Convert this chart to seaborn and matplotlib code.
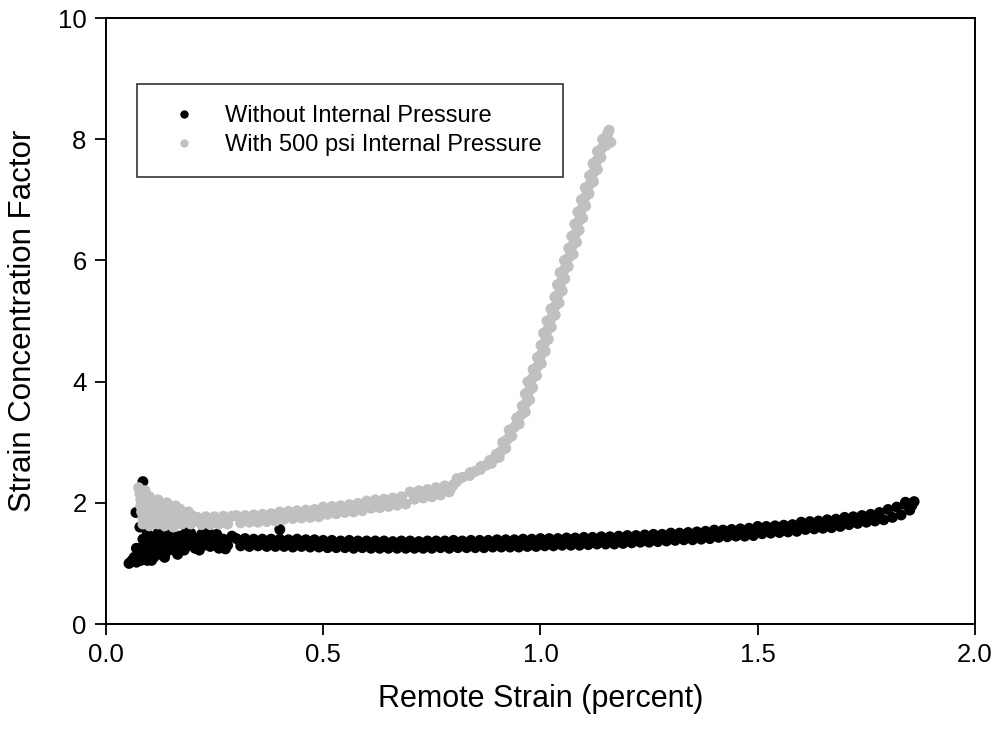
import numpy as np
import pandas as pd
import matplotlib
matplotlib.use("Agg")
import matplotlib.pyplot as plt
import seaborn as sns

# ── DATA ─────────────────────────────────────────────────────
# Without internal pressure – noisy start region
black_start_x = [0.053, 0.060, 0.065, 0.070, 0.075, 0.080, 0.080, 0.085, 0.090, 0.090,
                 0.095, 0.100, 0.100, 0.100, 0.105, 0.110, 0.110, 0.115, 0.120, 0.120,
                 0.125, 0.130, 0.130, 0.140, 0.140, 0.145, 0.150, 0.155, 0.160, 0.165,
                 0.170, 0.175, 0.180, 0.185, 0.190, 0.200, 0.205, 0.210, 0.220, 0.225,
                 0.230, 0.240, 0.245, 0.250, 0.260, 0.270, 0.280, 0.290,
                 0.070, 0.085, 0.095, 0.105, 0.115, 0.125, 0.135, 0.150, 0.165, 0.180,
                 0.195, 0.215, 0.235, 0.255, 0.275,
                 0.085, 0.069, 0.400, 0.078]
black_start_y = [1.00, 1.05, 1.10, 1.02, 1.15, 1.05, 1.25, 1.10, 1.20, 1.35,
                 1.05, 1.15, 1.30, 1.45, 1.25, 1.10, 1.40, 1.20, 1.30, 1.50,
                 1.15, 1.25, 1.40, 1.20, 1.35, 1.50, 1.25, 1.40, 1.20, 1.32,
                 1.45, 1.28, 1.38, 1.52, 1.30, 1.42, 1.25, 1.35, 1.48, 1.30,
                 1.40, 1.28, 1.45, 1.35, 1.25, 1.40, 1.30, 1.45,
                 1.25, 1.40, 1.50, 1.05, 1.35, 1.45, 1.10, 1.50, 1.15, 1.22,
                 1.50, 1.22, 1.52, 1.48, 1.24,
                 2.35, 1.84, 1.56, 1.60]

# Without internal pressure – main band, strain 0.30 ... 1.86
black_band_x = [0.30, 0.31, 0.32, 0.33, 0.34, 0.35, 0.36, 0.37, 0.38, 0.39,
                0.40, 0.41, 0.42, 0.43, 0.44, 0.45, 0.46, 0.47, 0.48, 0.49,
                0.50, 0.51, 0.52, 0.53, 0.54, 0.55, 0.56, 0.57, 0.58, 0.59,
                0.60, 0.61, 0.62, 0.63, 0.64, 0.65, 0.66, 0.67, 0.68, 0.69,
                0.70, 0.71, 0.72, 0.73, 0.74, 0.75, 0.76, 0.77, 0.78, 0.79,
                0.80, 0.81, 0.82, 0.83, 0.84, 0.85, 0.86, 0.87, 0.88, 0.89,
                0.90, 0.91, 0.92, 0.93, 0.94, 0.95, 0.96, 0.97, 0.98, 0.99,
                1.00, 1.01, 1.02, 1.03, 1.04, 1.05, 1.06, 1.07, 1.08, 1.09,
                1.10, 1.11, 1.12, 1.13, 1.14, 1.15, 1.16, 1.17, 1.18, 1.19,
                1.20, 1.21, 1.22, 1.23, 1.24, 1.25, 1.26, 1.27, 1.28, 1.29,
                1.30, 1.31, 1.32, 1.33, 1.34, 1.35, 1.36, 1.37, 1.38, 1.39,
                1.40, 1.41, 1.42, 1.43, 1.44, 1.45, 1.46, 1.47, 1.48, 1.49,
                1.50, 1.51, 1.52, 1.53, 1.54, 1.55, 1.56, 1.57, 1.58, 1.59,
                1.60, 1.61, 1.62, 1.63, 1.64, 1.65, 1.66, 1.67, 1.68, 1.69,
                1.70, 1.71, 1.72, 1.73, 1.74, 1.75, 1.76, 1.77, 1.78, 1.79,
                1.80, 1.81, 1.82, 1.83, 1.84, 1.85, 1.86, 1.84, 1.855]
black_band_y = [1.41, 1.29, 1.41, 1.28, 1.40, 1.29, 1.40, 1.28, 1.40, 1.28,
                1.40, 1.28, 1.39, 1.27, 1.40, 1.28, 1.39, 1.27, 1.39, 1.27,
                1.38, 1.26, 1.38, 1.26, 1.37, 1.26, 1.38, 1.25, 1.37, 1.26,
                1.37, 1.25, 1.37, 1.25, 1.37, 1.25, 1.36, 1.25, 1.37, 1.25,
                1.37, 1.25, 1.36, 1.25, 1.37, 1.25, 1.37, 1.26, 1.37, 1.25,
                1.38, 1.26, 1.37, 1.26, 1.38, 1.26, 1.38, 1.26, 1.38, 1.27,
                1.39, 1.27, 1.39, 1.27, 1.39, 1.27, 1.40, 1.28, 1.40, 1.28,
                1.41, 1.29, 1.41, 1.29, 1.41, 1.30, 1.42, 1.30, 1.42, 1.30,
                1.43, 1.31, 1.43, 1.32, 1.44, 1.32, 1.44, 1.32, 1.45, 1.33,
                1.46, 1.34, 1.46, 1.35, 1.47, 1.35, 1.48, 1.36, 1.48, 1.37,
                1.50, 1.38, 1.50, 1.39, 1.51, 1.39, 1.52, 1.40, 1.53, 1.41,
                1.55, 1.43, 1.55, 1.44, 1.56, 1.45, 1.57, 1.45, 1.58, 1.46,
                1.61, 1.49, 1.61, 1.50, 1.62, 1.51, 1.63, 1.52, 1.64, 1.53,
                1.68, 1.56, 1.69, 1.57, 1.70, 1.58, 1.72, 1.59, 1.73, 1.61,
                1.76, 1.64, 1.77, 1.66, 1.79, 1.68, 1.81, 1.70, 1.84, 1.72,
                1.89, 1.76, 1.93, 1.80, 1.97, 1.88, 2.02, 2.01, 1.96]

# With 500 psi internal pressure – noisy start region
grey_start_x = [0.075, 0.078, 0.080, 0.080, 0.082, 0.085, 0.085, 0.090, 0.090, 0.095,
                0.095, 0.100, 0.100, 0.100, 0.110, 0.110, 0.110, 0.120, 0.120, 0.120,
                0.130, 0.130, 0.135, 0.140, 0.140, 0.150, 0.150, 0.155, 0.160, 0.165,
                0.170, 0.175, 0.180, 0.185, 0.190, 0.195, 0.200,
                0.088, 0.105, 0.115, 0.125, 0.145, 0.160, 0.172, 0.188, 0.205]
grey_start_y = [2.25, 2.15, 2.05, 1.95, 1.85, 1.75, 1.65, 2.20, 2.00, 1.90,
                1.70, 2.10, 1.80, 1.62, 2.00, 1.85, 1.70, 2.05, 1.90, 1.65,
                1.95, 1.78, 1.62, 2.00, 1.85, 1.92, 1.70, 1.60, 1.85, 1.72,
                1.90, 1.65, 1.82, 1.70, 1.85, 1.65, 1.78,
                2.10, 1.95, 1.78, 1.85, 1.75, 1.95, 1.80, 1.76, 1.70]

# With 500 psi internal pressure – gently rising band, strain 0.21 ... 0.80
grey_band_x = [0.21, 0.22, 0.23, 0.24, 0.25, 0.26, 0.27, 0.28, 0.29,
               0.30, 0.31, 0.32, 0.33, 0.34, 0.35, 0.36, 0.37, 0.38, 0.39,
               0.40, 0.41, 0.42, 0.43, 0.44, 0.45, 0.46, 0.47, 0.48, 0.49,
               0.50, 0.51, 0.52, 0.53, 0.54, 0.55, 0.56, 0.57, 0.58, 0.59,
               0.60, 0.61, 0.62, 0.63, 0.64, 0.65, 0.66, 0.67, 0.68, 0.69,
               0.70, 0.71, 0.72, 0.73, 0.74, 0.75, 0.76, 0.77, 0.78, 0.79,
               0.795, 0.80]
grey_band_y = [1.76, 1.64, 1.77, 1.64, 1.77, 1.65, 1.78, 1.65, 1.78,
               1.79, 1.67, 1.79, 1.68, 1.80, 1.68, 1.81, 1.69, 1.82, 1.70,
               1.85, 1.73, 1.86, 1.74, 1.87, 1.75, 1.88, 1.76, 1.89, 1.77,
               1.93, 1.81, 1.94, 1.82, 1.95, 1.84, 1.97, 1.85, 1.99, 1.87,
               2.03, 1.91, 2.05, 1.92, 2.06, 1.94, 2.08, 1.96, 2.10, 1.98,
               2.18, 2.06, 2.20, 2.08, 2.22, 2.10, 2.25, 2.13, 2.28, 2.18,
               2.25, 2.30]

# With 500 psi internal pressure – steep rise (two edges of the band)
grey_rise_x = [0.807, 0.808, 0.837, 0.838, 0.862, 0.863, 0.887, 0.883, 0.905, 0.898,
               0.920, 0.913, 0.934, 0.928, 0.951, 0.945, 0.965, 0.958, 0.975, 0.965,
               0.982, 0.971, 0.991, 0.983, 1.002, 0.993, 1.011, 1.001, 1.018, 1.007,
               1.025, 1.015, 1.034, 1.024, 1.043, 1.033, 1.050, 1.039, 1.056, 1.045,
               1.064, 1.055, 1.075, 1.065, 1.083, 1.072, 1.089, 1.079, 1.097, 1.086,
               1.104, 1.094, 1.112, 1.103, 1.122, 1.113, 1.131, 1.121, 1.139, 1.131,
               1.151, 1.143, 1.155, 1.158, 1.162]
grey_rise_y = [2.35, 2.40, 2.45, 2.50, 2.55, 2.60, 2.65, 2.70, 2.75, 2.80,
               2.90, 3.00, 3.10, 3.20, 3.30, 3.40, 3.50, 3.60, 3.70, 3.80,
               3.90, 4.00, 4.10, 4.20, 4.30, 4.40, 4.50, 4.60, 4.70, 4.80,
               4.90, 5.00, 5.10, 5.20, 5.30, 5.40, 5.50, 5.60, 5.70, 5.80,
               5.90, 6.00, 6.10, 6.20, 6.30, 6.40, 6.50, 6.60, 6.70, 6.80,
               6.90, 7.00, 7.10, 7.20, 7.30, 7.40, 7.50, 7.60, 7.70, 7.80,
               7.90, 8.00, 8.10, 8.15, 7.95]

# With 500 psi internal pressure – steep rise (middle of the band)
grey_mid_x = [0.820, 0.850, 0.875, 0.893, 0.909, 0.917, 0.924, 0.931, 0.940, 0.948,
              0.955, 0.962, 0.967, 0.970, 0.974, 0.977, 0.981, 0.987, 0.993, 0.998,
              1.002, 1.006, 1.010, 1.013, 1.016, 1.020, 1.025, 1.029, 1.034, 1.038,
              1.042, 1.045, 1.048, 1.051, 1.055, 1.060, 1.065, 1.070, 1.074, 1.078,
              1.081, 1.084, 1.088, 1.092, 1.095, 1.099, 1.103, 1.108, 1.113, 1.118,
              1.122, 1.126, 1.130, 1.135, 1.141, 1.147, 1.153]
grey_mid_y = [2.42, 2.52, 2.62, 2.72, 2.85, 2.95, 3.05, 3.15, 3.25, 3.35,
              3.45, 3.55, 3.65, 3.75, 3.85, 3.95, 4.05, 4.15, 4.25, 4.35,
              4.45, 4.55, 4.65, 4.75, 4.85, 4.95, 5.05, 5.15, 5.25, 5.35,
              5.45, 5.55, 5.65, 5.75, 5.85, 5.95, 6.05, 6.15, 6.25, 6.35,
              6.45, 6.55, 6.65, 6.75, 6.85, 6.95, 7.05, 7.15, 7.25, 7.35,
              7.45, 7.55, 7.65, 7.75, 7.85, 7.95, 8.05]

x_ticks = [0.0, 0.5, 1.0, 1.5, 2.0]
y_ticks = [0, 2, 4, 6, 8, 10]
labels = ['Without Internal Pressure', 'With 500 psi Internal Pressure']
colors = ['#000000', '#c0c0c0']

black_x = black_start_x + black_band_x
black_y = black_start_y + black_band_y
grey_x = grey_start_x + grey_band_x + grey_rise_x + grey_mid_x
grey_y = grey_start_y + grey_band_y + grey_rise_y + grey_mid_y

df = pd.DataFrame({
    'strain': black_x + grey_x,
    'scf': black_y + grey_y,
    'series': [labels[0]] * len(black_x) + [labels[1]] * len(grey_x),
})

# ── PLOT ─────────────────────────────────────────────────────
sns.set_style('ticks')
plt.rcParams['font.family'] = ['Liberation Sans', 'DejaVu Sans']
plt.rcParams['text.color'] = 'black'
plt.rcParams['axes.labelcolor'] = 'black'

fig = plt.figure(figsize=(9.97, 7.30), dpi=100)
ax = fig.add_axes([0.1063, 0.1452, 0.8716, 0.830])

sns.scatterplot(data=df, x='strain', y='scf', hue='series',
                palette=dict(zip(labels, colors)), s=62, linewidth=0,
                alpha=1.0, legend=False, ax=ax)

ax.set_xlim(0, 2.0)
ax.set_ylim(0, 10)
ax.set_xticks(x_ticks)
ax.set_xticklabels([f'{t:.1f}' for t in x_ticks])
ax.set_yticks(y_ticks)
ax.set_yticklabels([str(t) for t in y_ticks])
ax.tick_params(axis='both', direction='out', length=8, width=1.3,
               labelsize=18.5, color='black', labelcolor='black', pad=6)
for sp in ax.spines.values():
    sp.set_visible(True)
    sp.set_linewidth(1.4)
    sp.set_color('black')

ax.set_xlabel('Remote Strain (percent)', fontsize=22, labelpad=12)
ax.set_ylabel('Strain Concentration Factor', fontsize=22.5, labelpad=14)

handles = [plt.Line2D([], [], marker='o', linestyle='none', markersize=6,
                      markerfacecolor=c, markeredgewidth=0) for c in colors]
leg = ax.legend(handles, labels, loc='upper left', bbox_to_anchor=(0.036, 0.892),
                borderaxespad=0, fontsize=17, frameon=True, fancybox=False,
                handletextpad=0.6, handlelength=2.2, borderpad=0.9,
                labelspacing=0.3)
leg.get_frame().set_edgecolor('black')
leg.get_frame().set_linewidth(1.2)
for t in leg.get_texts():
    t.set_color('black')

plt.savefig('out.png', dpi=100)
